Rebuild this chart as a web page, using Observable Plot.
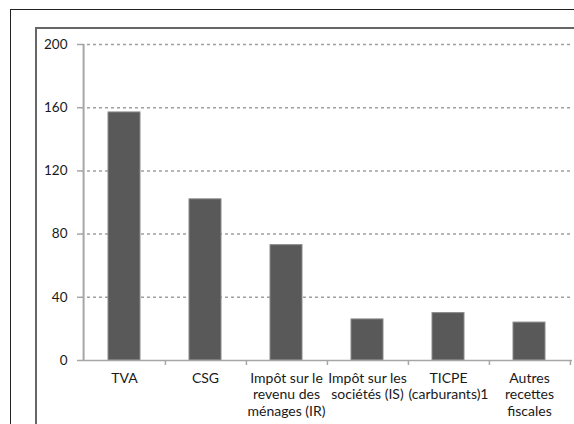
<!DOCTYPE html>
<html><head><meta charset="utf-8">
<script src="https://cdn.jsdelivr.net/npm/d3@7"></script>
<script src="https://cdn.jsdelivr.net/npm/@observablehq/plot@0.6"></script>
<style>
html,body{margin:0;padding:0;background:#fff;}
#wrap{position:relative;width:574px;height:424px;overflow:hidden;}
#outer{position:absolute;left:10px;top:9px;width:600px;height:500px;border-left:1.5px solid #222;border-top:1.5px solid #222;}
#inner{position:absolute;left:35px;top:27px;width:600px;height:500px;border-left:2px solid #666;border-top:2px solid #666;}
#chart{position:absolute;left:0;top:0;}
</style></head>
<body><div id="wrap"><div id="outer"></div><div id="inner"></div><div id="chart"></div></div>
<script>
const categories = ["TVA","CSG","Impôt sur le\nrevenu des\nménages (IR)","Impôt sur les\nsociétés (IS)","TICPE\n(carburants)1","Autres\nrecettes\nfiscales"];
const values = [157,102,73,26,30,24];
const yTicks = [0,40,80,120,160,200];

const data = categories.map((c,i)=>({cat:c, v:values[i]}));
const W = 574, H = 424, mL = 81, mR = 2, mT = 44, mB = 64;
const step = (W - mL - mR) / categories.length;
const font = "Lato, 'Open Sans', sans-serif";

const chart = Plot.plot({
  width: W, height: H,
  marginLeft: mL, marginRight: mR, marginTop: mT, marginBottom: mB,
  style: {fontFamily: font, fontSize: "13px", color: "#1a1a1a", background: "transparent"},
  x: {domain: categories, paddingInner: 0.61, paddingOuter: 0.305, label: null},
  y: {domain: [0,200], label: null},
  marks: [
    Plot.gridY(yTicks.filter(d=>d>0), {stroke: "#a0a0a0", strokeOpacity: 1, strokeWidth: 1.5, strokeDasharray: "3,3", x1: null}),
    Plot.barY(data, {x: "cat", y: "v", fill: "#595959", stroke: "#8a8a8a", strokeWidth: 1}),
    Plot.ruleY([0], {stroke: "#a6a6a6", strokeWidth: 1.5}),
    Plot.ruleX([categories[0]], {y1: 0, y2: 200, dx: -step/2, stroke: "#a6a6a6", strokeWidth: 2}),
    Plot.ruleX(categories, {y1: 0, y2: 0, dx: step/2, insetBottom: -5, stroke: "#a6a6a6", strokeWidth: 1.5}),
    Plot.axisY({ticks: yTicks, tickSize: 4, tickPadding: 10, stroke: "#a6a6a6", strokeWidth: 1.5, fill: "#1a1a1a", fontSize: 13.5, label: null}),
    Plot.axisX({tickSize: 0, tickPadding: 10, fill: "#1a1a1a", fontSize: 14, lineHeight: 1.21, label: null})
  ]
});
document.getElementById("chart").appendChild(chart);
</script></body></html>
